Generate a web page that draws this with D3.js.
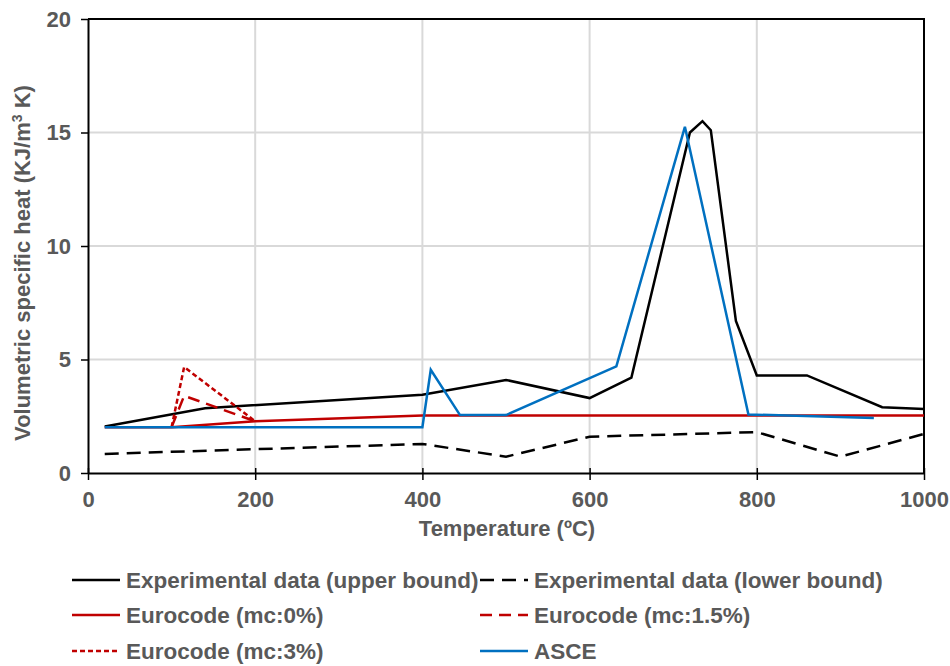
<!DOCTYPE html>
<html>
<head>
<meta charset="utf-8">
<script src="https://cdn.jsdelivr.net/npm/d3@7"></script>
<style>
  body { margin: 0; background: #fff; }
  text { font-family: "Liberation Sans", Arial, sans-serif; font-weight: bold; fill: #595959; }
</style>
</head>
<body>
<div id="chart"></div>
<script>
// values
let upperT = [20, 140, 400, 500, 600, 650, 720, 735, 745, 775, 800, 860, 950, 1000];
let upperV = [2.05, 2.85, 3.45, 4.1, 3.3, 4.2, 15.0, 15.5, 15.1, 6.7, 4.3, 4.3, 2.9, 2.82];

let lowerT = [20, 400, 500, 600, 800, 900, 1000];
let lowerV = [0.84, 1.28, 0.72, 1.6, 1.8, 0.72, 1.72];

let ec0T = [20, 100, 200, 400, 1000];
let ec0V = [2.02, 2.02, 2.28, 2.53, 2.53];

let ec15T = [100, 115, 200];
let ec15V = [2.02, 3.4, 2.28];

let ec3T = [100, 115, 200];
let ec3V = [2.02, 4.67, 2.28];

let asceT = [20, 400, 410, 445, 500, 632, 714, 790, 940];
let asceV = [2.02, 2.02, 4.55, 2.55, 2.55, 4.7, 15.25, 2.58, 2.42];

let xTicks = [0, 200, 400, 600, 800, 1000];
let yTicks = [0, 5, 10, 15, 20];

const width = 950, height = 666;
const margin = {left: 88, right: 26, top: 19, bottom: 193};
const plotW = width - margin.left - margin.right;
const plotH = height - margin.top - margin.bottom;

const zip = (t, v) => t.map((d, i) => ({t: d, v: v[i]}));

let series = [
  {name: "Experimental data (upper bound)", data: zip(upperT, upperV), color: "#000000", dash: null},
  {name: "Experimental data (lower bound)", data: zip(lowerT, lowerV), color: "#000000", dash: "14,8"},
  {name: "Eurocode (mc:0%)", data: zip(ec0T, ec0V), color: "#c00000", dash: null},
  {name: "Eurocode (mc:1.5%)", data: zip(ec15T, ec15V), color: "#c00000", dash: "12,7"},
  {name: "Eurocode (mc:3%)", data: zip(ec3T, ec3V), color: "#c00000", dash: "5,3"},
  {name: "ASCE", data: zip(asceT, asceV), color: "#0070c0", dash: null}
];

let svg = d3.select("#chart")
    .append("svg")
    .attr("width", width)
    .attr("height", height);

let g = svg.append("g")
    .attr("transform", `translate(${margin.left},${margin.top})`);

let x = d3.scaleLinear().domain([0, 1000]).range([0, plotW]);
let y = d3.scaleLinear().domain([0, 20]).range([plotH, 0]);

// gridlines
g.append("g")
    .selectAll("line")
    .data(xTicks.filter(d => d > 0 && d < 1000))
    .join("line")
    .attr("x1", d => x(d)).attr("x2", d => x(d))
    .attr("y1", 0).attr("y2", plotH)
    .attr("stroke", "#d9d9d9").attr("stroke-width", 2);

g.append("g")
    .selectAll("line")
    .data(yTicks.filter(d => d > 0 && d < 20))
    .join("line")
    .attr("x1", 0).attr("x2", plotW)
    .attr("y1", d => y(d)).attr("y2", d => y(d))
    .attr("stroke", "#d9d9d9").attr("stroke-width", 2);

// frame top + right
g.append("path")
    .attr("d", `M0,${y(20)}H${x(1000)}V${y(0)}`)
    .attr("fill", "none")
    .attr("stroke", "#000")
    .attr("stroke-width", 2);

// axes
let xAxis = g.append("g")
    .attr("transform", `translate(0,${plotH})`)
    .call(d3.axisBottom(x).tickValues(xTicks).tickFormat(d3.format("d"))
        .tickSizeInner(7).tickSizeOuter(0).tickPadding(11));

let yAxis = g.append("g")
    .call(d3.axisLeft(y).tickValues(yTicks).tickFormat(d3.format("d"))
        .tickSizeInner(7).tickSizeOuter(0).tickPadding(10));

[xAxis, yAxis].forEach(a => {
  a.select(".domain").attr("stroke", "#000").attr("stroke-width", 2);
  a.selectAll(".tick line").attr("stroke", "#000").attr("stroke-width", 1.5);
  a.selectAll(".tick text")
      .style("font-size", "22px")
      .style("font-family", "'Liberation Sans', Arial, sans-serif")
      .style("font-weight", "bold")
      .attr("fill", "#595959");
});
// x ticks cross the axis slightly
xAxis.selectAll(".tick line").attr("y1", -5).attr("y2", 7);

// lines
let line = d3.line().x(d => x(d.t)).y(d => y(d.v));

g.append("g")
    .selectAll("path")
    .data(series)
    .join("path")
    .attr("d", d => line(d.data))
    .attr("fill", "none")
    .attr("stroke", d => d.color)
    .attr("stroke-width", 2.5)
    .attr("stroke-dasharray", d => d.dash)
    .attr("stroke-linejoin", "miter");

// axis titles
svg.append("text")
    .attr("x", margin.left + x(500) + 1)
    .attr("y", 536)
    .style("text-anchor", "middle")
    .style("font-size", "22px")
    .text("Temperature (ºC)");

let yt = svg.append("text")
    .attr("transform", `translate(30, ${margin.top + y(10) + 17}) rotate(-90)`)
    .style("text-anchor", "middle")
    .style("font-size", "22px");
yt.append("tspan").text("Volumetric specific heat (KJ/m");
yt.append("tspan").attr("dy", -8).style("font-size", "14px").text("3");
yt.append("tspan").attr("dy", 8).text(" K)");

// legend
let legendCols = [72, 480];
let legendRows = [580, 615, 651];

let legend = svg.append("g")
    .selectAll("g")
    .data(series)
    .join("g")
    .attr("transform", (d, i) => `translate(${legendCols[i % 2]},${legendRows[Math.floor(i / 2)]})`);

legend.append("line")
    .attr("x1", 0).attr("x2", 48)
    .attr("y1", 0).attr("y2", 0)
    .attr("stroke", d => d.color)
    .attr("stroke-width", 2.5)
    .attr("stroke-dasharray", d => d.dash);

legend.append("text")
    .attr("x", 54)
    .attr("y", 8)
    .style("font-size", "22.5px")
    .text(d => d.name);
</script>
</body>
</html>
